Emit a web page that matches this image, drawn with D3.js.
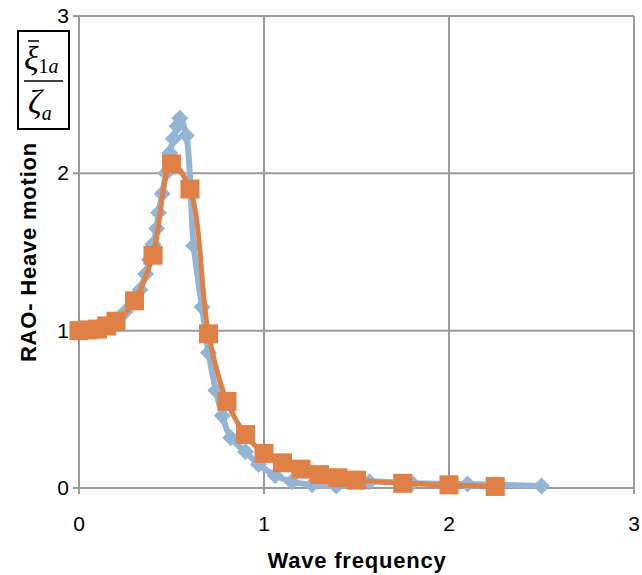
<!DOCTYPE html>
<html>
<head>
<meta charset="utf-8">
<script src="https://cdn.jsdelivr.net/npm/d3@7"></script>
<style>
  html, body { margin: 0; padding: 0; background: #fff; }
  svg { display: block; }
</style>
</head>
<body>
<svg id="chart" width="642" height="575"></svg>
<script>
// Heave RAO versus wave frequency, two computed series
const xTicks = [0, 1, 2, 3];
const yTicks = [0, 1, 2, 3];

const seriesAFreq = [0, 0.05, 0.1, 0.15, 0.2, 0.25, 0.3, 0.33, 0.36, 0.38, 0.4, 0.42, 0.43, 0.45, 0.47, 0.49, 0.51, 0.53, 0.545, 0.58, 0.62, 0.665, 0.7, 0.74, 0.775, 0.82, 0.9, 0.97, 1.06, 1.15, 1.26, 1.39, 1.57, 1.8, 2.1, 2.5];
const seriesAValue = [1.0, 1.005, 1.02, 1.04, 1.07, 1.12, 1.18, 1.26, 1.36, 1.45, 1.55, 1.65, 1.75, 1.87, 2.0, 2.13, 2.22, 2.3, 2.35, 2.24, 1.54, 1.15, 0.86, 0.62, 0.46, 0.32, 0.23, 0.15, 0.08, 0.04, 0.02, 0.013, 0.04, 0.03, 0.025, 0.013];

const seriesBFreq = [0, 0.05, 0.1, 0.15, 0.2, 0.3, 0.4, 0.5, 0.6, 0.7, 0.8, 0.9, 1.0, 1.1, 1.2, 1.3, 1.4, 1.5, 1.75, 2.0, 2.25];
const seriesBValue = [1.0, 1.005, 1.01, 1.03, 1.06, 1.19, 1.48, 2.06, 1.9, 0.98, 0.55, 0.34, 0.22, 0.16, 0.12, 0.085, 0.065, 0.05, 0.03, 0.02, 0.01];

const colorA = "#94b4d6";
const colorB = "#df8047";
const gridColor = "#9a9a9a";

const svg = d3.select("#chart");
const x = d3.scaleLinear().domain([0, 3]).range([79, 634]);
const y = d3.scaleLinear().domain([0, 3]).range([488, 16]);

// grid lines
const grid = svg.append("g");
grid.selectAll("line.v").data(xTicks).join("line")
  .attr("x1", d => x(d)).attr("x2", d => x(d))
  .attr("y1", y(3)).attr("y2", y(0) + 6)
  .attr("stroke", gridColor).attr("stroke-width", 2);
grid.selectAll("line.h").data(yTicks).join("line")
  .attr("x1", x(0) - 6).attr("x2", x(3))
  .attr("y1", d => y(d)).attr("y2", d => y(d))
  .attr("stroke", gridColor).attr("stroke-width", 2);

// tick labels
const font = "'Liberation Sans', 'DejaVu Sans', sans-serif";
svg.append("g").selectAll("text").data(xTicks).join("text")
  .attr("x", d => x(d)).attr("y", 531)
  .attr("text-anchor", "middle")
  .attr("font-family", font).attr("font-size", 21)
  .attr("fill", "#000").text(d => d);
svg.append("g").selectAll("text").data(yTicks).join("text")
  .attr("x", 69).attr("y", d => y(d) + 7)
  .attr("text-anchor", "end")
  .attr("font-family", font).attr("font-size", 21)
  .attr("fill", "#000").text(d => d);

// axis titles
svg.append("text")
  .attr("x", 357).attr("y", 568)
  .attr("text-anchor", "middle")
  .attr("font-family", font).attr("font-size", 22).attr("font-weight", "bold")
  .attr("letter-spacing", 0.8)
  .text("Wave frequency");
svg.append("text")
  .attr("transform", "translate(36,252) rotate(-90)")
  .attr("text-anchor", "middle")
  .attr("font-family", font).attr("font-size", 22).attr("font-weight", "bold")
  .attr("letter-spacing", 0.8)
  .text("RAO- Heave motion");

// boxed symbol ratio
const serif = "'Liberation Serif', 'DejaVu Serif', serif";
const box = svg.append("g");
box.append("rect").attr("x", 18).attr("y", 31).attr("width", 51).attr("height", 98)
  .attr("fill", "#fff").attr("stroke", "#000").attr("stroke-width", 2);
box.append("line").attr("x1", 24).attr("x2", 63).attr("y1", 81).attr("y2", 81)
  .attr("stroke", "#000").attr("stroke-width", 1.5);
box.append("line").attr("x1", 28).attr("x2", 39).attr("y1", 41).attr("y2", 41)
  .attr("stroke", "#000").attr("stroke-width", 1.5);
const num = box.append("text").attr("x", 24).attr("y", 70)
  .attr("font-family", serif).attr("font-size", 34);
num.append("tspan").attr("font-style", "italic").text("ξ");
num.append("tspan").attr("font-size", 20).attr("dy", 3).text("1");
num.append("tspan").attr("font-size", 20).attr("font-style", "italic").text("a");
const den = box.append("text").attr("x", 28).attr("y", 113)
  .attr("font-family", serif).attr("font-size", 34);
den.append("tspan").attr("font-style", "italic").text("ζ");
den.append("tspan").attr("font-size", 20).attr("dy", 7).attr("font-style", "italic").text("a");

// series
const dataA = seriesAFreq.map((f, i) => [f, seriesAValue[i]]);
const dataB = seriesBFreq.map((f, i) => [f, seriesBValue[i]]);
const line = d3.line().x(d => x(d[0])).y(d => y(d[1])).curve(d3.curveCatmullRom.alpha(0.5));

svg.append("path").datum(dataA).attr("d", line)
  .attr("fill", "none").attr("stroke", colorA).attr("stroke-width", 6).attr("stroke-linejoin", "round");
const dr = 8.5;
svg.append("g").selectAll("path").data(dataA).join("path")
  .attr("transform", d => `translate(${x(d[0])},${y(d[1])})`)
  .attr("d", `M0,${-dr}L${dr},0L0,${dr}L${-dr},0Z`)
  .attr("fill", colorA);

svg.append("path").datum(dataB).attr("d", line)
  .attr("fill", "none").attr("stroke", colorB).attr("stroke-width", 5).attr("stroke-linejoin", "round");
const sq = 19;
svg.append("g").selectAll("rect").data(dataB).join("rect")
  .attr("x", d => x(d[0]) - sq / 2).attr("y", d => y(d[1]) - sq / 2)
  .attr("width", sq).attr("height", sq)
  .attr("fill", colorB);
</script>
</body>
</html>
